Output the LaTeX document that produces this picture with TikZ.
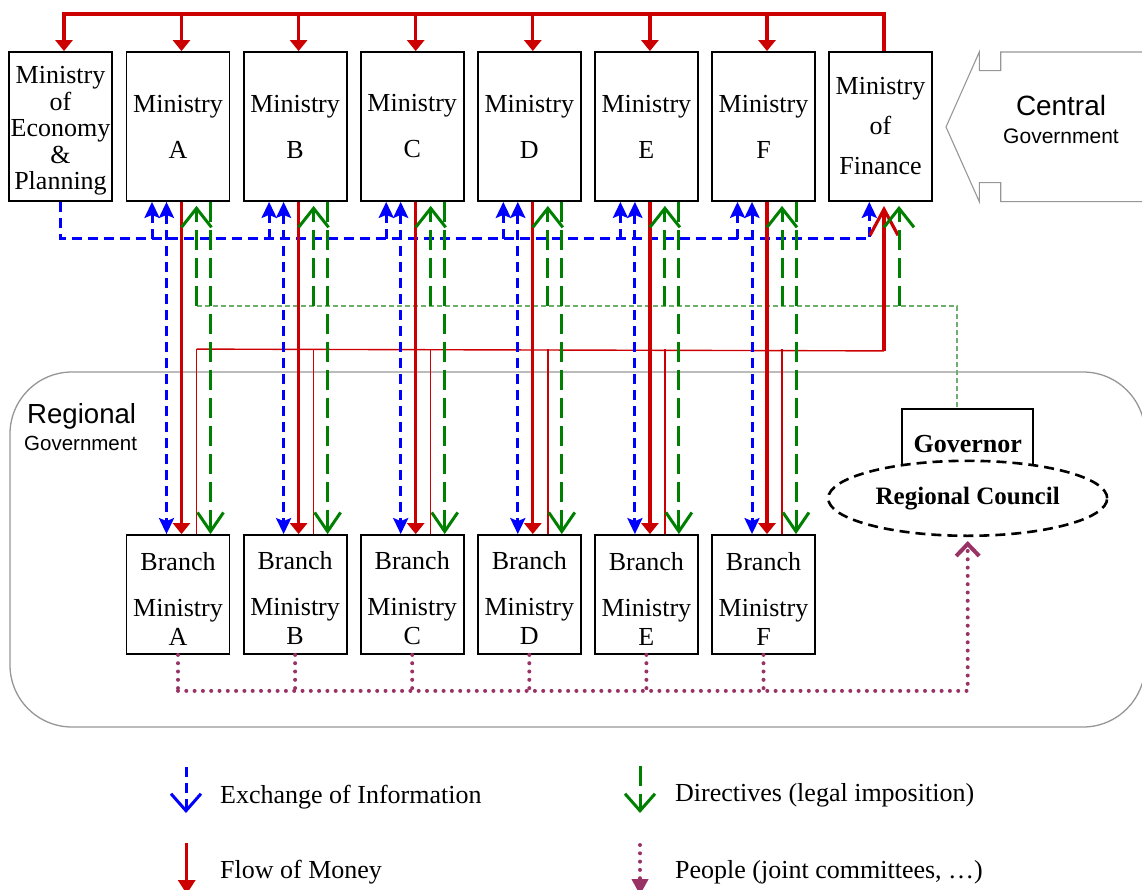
\documentclass[tikz,border=0pt]{standalone}
\usepackage{fontspec}
\setmainfont{Liberation Serif}
\newfontfamily\sansf{Liberation Sans}
\usetikzlibrary{arrows.meta,calc,shapes.geometric}
\definecolor{cblue}{RGB}{0,0,255}
\definecolor{cred}{RGB}{204,0,0}
\definecolor{cgreen}{RGB}{0,128,0}
\definecolor{cpurple}{RGB}{153,51,102}
\definecolor{lgreen}{RGB}{110,175,110}
\definecolor{cgray}{RGB}{150,150,150}
\tikzset{
  mbox/.style={draw=black, line width=1.8pt, fill=white, minimum width=103pt, minimum height=149pt, inner sep=0pt, align=center, font=\fontsize{26}{26}\selectfont},
  brbox/.style={mbox, minimum height=119pt},
  info/.style={draw=cblue, line width=3pt, dash pattern=on 10pt off 6pt},
  money/.style={draw=cred, line width=3.2pt},
  thinred/.style={draw=cred, line width=1.4pt},
  dirl/.style={draw=cgreen, line width=3pt, dash pattern=on 20pt off 8pt},
  thingreen/.style={draw=lgreen, line width=1.4pt, dash pattern=on 5pt off 3pt},
  people/.style={draw=cpurple, line width=4pt, dash pattern=on 0pt off 8.3pt, line cap=round},
  legtext/.style={anchor=base west, inner sep=0pt, font=\fontsize{26}{26}\selectfont},
  btip/.tip={Stealth[length=16pt,width=15pt,inset=3pt]},
  rtip/.tip={Triangle[length=11pt,width=17pt]},
  gup/.tip={Straight Barb[length=19pt,width=30pt]},
  gdn/.tip={Straight Barb[length=19pt,width=26pt]},
  rvtip/.tip={Straight Barb[length=26pt,width=28pt]},
  pvtip/.tip={Straight Barb[length=12pt,width=23pt]},
}
\begin{document}
\begin{tikzpicture}[x=1pt,y=-1pt]
\path[use as bounding box] (0,0) rectangle (1142,890);
\clip (0,0) rectangle (1142,890);

% regional government frame
\draw[cgray, line width=1.3pt, rounded corners=62pt] (10,372) rectangle (1145,727);
\node[anchor=base west, inner sep=0pt, font=\sansf\fontsize{27.6}{30}\selectfont] (regt) at (27,423) {Regional};
\node[anchor=base west, inner sep=0pt, font=\sansf\fontsize{20.5}{22}\selectfont] (regg) at (24,450) {Government};

% central government shape
\draw[cgray, line width=1.1pt] (1150,52) -- (1000.7,52) -- (1000.7,70.7) -- (979.3,70.7) -- (979.3,52) -- (946,127) -- (979.3,201.7) -- (979.3,182.7) -- (1000.7,182.7) -- (1000.7,201.7) -- (1150,201.7);
\node[anchor=base, inner sep=0pt, font=\sansf\fontsize{27.9}{30}\selectfont] (cent) at (1061,115.5) {Central};
\node[anchor=base, inner sep=0pt, font=\sansf\fontsize{21}{22}\selectfont] (centg) at (1061,143.3) {Government};

% boxes
\node[mbox, font=\fontsize{26}{26.6}\selectfont] (econ) at (60.5,126.5) {\rule{0pt}{26pt}Ministry\\of\\Economy\\\&\\Planning};
\node[mbox] (fin) at (880.5,126.5) {Ministry\\[14pt]of\\[14pt]Finance};
\foreach \n/\c in {A/178,B/295.1,C/412.2,D/529.3,E/646.4,F/763.5}{
  \node[mbox] (m\n) at (\c,126.5) {Ministry\\[20pt]\n};
  \node[brbox] (b\n) at (\c,594.5) {\rule{0pt}{26pt}Branch\\[20pt]Ministry\\[3pt]\n};
}

% governor and council
\node[draw=black, line width=1.8pt, fill=white, minimum width=131pt, minimum height=62pt, inner sep=0pt, font=\bfseries\fontsize{26}{26}\selectfont] (gov) at (967.8,440) {\raisebox{-3.5pt}[17.7pt][0pt]{Governor}};
\node[ellipse, draw=black, line width=2.6pt, dash pattern=on 10pt off 6pt, fill=white, minimum width=279pt, minimum height=75pt, inner sep=0pt, font=\bfseries\fontsize{25}{25}\selectfont] (council) at (967.7,498.3) {Regional Council};

% thin lines
\draw[thinred] ($(bA.north)+(18.5,-185)$) -- ($(fin.south)+(3.5,149)$);
\draw[thingreen] ($(mA.south)+(18.5,104)$) -| ($(gov.north)+(-11,0)$);

% top money line
\draw[money,-rtip] ($(fin.north)+(3.5,0)$) |- ($(econ.north)+(3.5,-37)$) -- ($(econ.north)+(3.5,0)$);

% information line from economy
\draw[info,-btip] (econ.south) |- ($(fin.south)+(-11.2,37)$) -- ($(fin.south)+(-11.2,0)$);

% finance connectors
\draw[money,-rvtip] ($(fin.south)+(3.5,149)$) -- ($(fin.south)+(3.5,4)$);
\draw[dirl,-gup] ($(fin.south)+(18.5,104)$) -- ($(fin.south)+(18.5,4)$);

\foreach \n in {A,B,C,D,E,F}{
  \draw[thinred] ($(b\n.north)+(18.5,-185)$) -- ($(b\n.north)+(18.5,0)$);
  \draw[money,-rtip] ($(m\n.north)+(3.5,-37)$) -- ($(m\n.north)+(3.5,0)$);
  \draw[info,btip-btip] ($(m\n.south)+(-11.5,0)$) -- ($(b\n.north)+(-11.5,0)$);
  \draw[info,-btip] ($(m\n.south)+(-26,37)$) -- ($(m\n.south)+(-26,0)$);
  \draw[money,-rtip] ($(m\n.south)+(3.5,0)$) -- ($(b\n.north)+(3.5,0)$);
  \draw[dirl,-gup] ($(m\n.south)+(18.5,104)$) -- ($(m\n.south)+(18.5,4)$);
  \draw[dirl,-gdn] ($(m\n.south)+(32.5,0)$) -- ($(b\n.north)+(32.5,0)$);
  \draw[people] (b\n.south) -- ($(b\n.south)+(0,36)$);
}
\draw[people,-pvtip] ($(bA.south)+(0,36)$) -| ($(council.south)+(0,4)$);

% legend
\coordinate (li1) at (186,767); \coordinate (li2) at (186,813);
\draw[info,-{Straight Barb[length=17pt,width=30pt]}] (li1) -- (li2);
\node[legtext] (lti) at (220,803) {Exchange of Information};
\coordinate (lm1) at (186.7,843); \coordinate (lm2) at (186.7,894);
\draw[money,-{Triangle[length=14pt,width=17pt]}] (lm1) -- (lm2);
\node[legtext] (ltm) at (220,878.3) {Flow of Money};
\coordinate (ld1) at (640,766); \coordinate (ld2) at (640,813);
\draw[dirl,-{Straight Barb[length=17pt,width=30pt]}] (ld1) -- (ld2);
\node[legtext] (ltd) at (675,801.7) {Directives (legal imposition)};
\coordinate (lp1) at (640,845); \coordinate (lp2) at (640,895);
\draw[people,-{Triangle[length=16pt,width=16pt]}] (lp1) -- (lp2);
\node[legtext] (ltp) at (675,878) {People (joint committees, …)};
\end{tikzpicture}
\end{document}
